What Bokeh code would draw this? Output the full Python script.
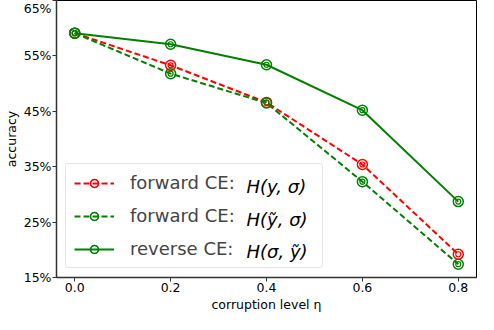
from bokeh.plotting import figure
from bokeh.models import (Range1d, FixedTicker, PrintfTickFormatter, Legend, LegendItem, Label)
from bokeh.embed import file_html
from bokeh.resources import INLINE

# ---- data ----
eta = [0.0, 0.2, 0.4, 0.6, 0.8]
fwd_clean = [59.1, 53.3, 46.6, 35.4, 19.2]
fwd_noisy = [59.1, 51.8, 46.5, 32.3, 17.4]
rev_noisy = [59.1, 57.1, 53.4, 45.2, 28.7]
series_prefix = ["forward CE:", "forward CE:", "reverse CE:"]
series_math = ["H(y, σ)", "H(ỹ, σ)", "H(σ, ỹ)"]
y_ticks = [15, 25, 35, 45, 55, 65]
x_ticks = [0.0, 0.2, 0.4, 0.6, 0.8]

FONT = "DejaVu Sans"

p = figure(width=478, height=314, output_backend="svg", toolbar_location=None,
           x_range=Range1d(-0.038, 0.838), y_range=Range1d(15, 65),
           min_border_left=40, min_border_right=2, min_border_top=0, min_border_bottom=0)
p.grid.visible = False
p.outline_line_color = "black"
p.outline_line_width = 1
p.background_fill_color = "white"

for ax in (p.xaxis[0], p.yaxis[0]):
    ax.axis_line_color = "#333333"
    ax.axis_line_width = 1.5
    ax.major_tick_line_color = "#333333"
    ax.major_tick_line_width = 1
    ax.major_tick_in = 0
    ax.major_tick_out = 4
    ax.minor_tick_line_color = None
    ax.major_label_text_font = FONT
    ax.major_label_text_font_size = "12.5px"
    ax.major_label_text_color = "black"
    ax.axis_label_text_font = FONT
    ax.axis_label_text_font_size = "12.5px"
    ax.axis_label_text_font_style = "normal"
    ax.axis_label_text_color = "black"
    ax.major_label_standoff = 1
    ax.axis_label_standoff = 2

p.yaxis.ticker = FixedTicker(ticks=y_ticks)
p.yaxis.formatter = PrintfTickFormatter(format="%d%%")
p.xaxis.ticker = FixedTicker(ticks=x_ticks)
p.xaxis.formatter = PrintfTickFormatter(format="%.1f")
p.yaxis.axis_label = "accuracy"
p.xaxis.axis_label = "corruption level η"

RED = "#ff0000"
GREEN = "#008000"
specs = [(fwd_clean, RED, "6 3"), (fwd_noisy, GREEN, "6 3"), (rev_noisy, GREEN, "solid")]
items = []
for (vals, col, dash), pre in zip(specs, series_prefix):
    r1 = p.line(eta, vals, line_color=col, line_width=2, line_dash=dash)
    r2 = p.scatter(eta, vals, marker="circle", size=10, fill_color=None, line_color=col, line_width=1.5)
    r3 = p.scatter(eta, vals, marker="circle", size=5, fill_color=None, line_color=col, line_width=1.2)
    items.append(LegendItem(label=pre, renderers=[r1, r2, r3]))

legend = Legend(items=items, location=(9, 9), margin=0,
                padding=8, spacing=12, glyph_width=40, glyph_height=20,
                label_height=20, label_width=184, label_standoff=16,
                label_text_font=FONT, label_text_font_size="18px",
                border_line_color="#cccccc", border_line_width=1,
                background_fill_alpha=0, border_radius=3)
p.add_layout(legend, "center")

# italic math parts, in screen units relative to the frame's bottom-left
rows_y = [91, 58, 26]
for txt, yy in zip(series_math, rows_y):
    p.add_layout(Label(x=190, y=yy, x_units="screen", y_units="screen", text=txt,
                       text_font=FONT, text_font_size="18px", text_font_style="italic",
                       text_baseline="middle", text_color="black"))

open("out.html", "w").write(file_html(p, INLINE))
